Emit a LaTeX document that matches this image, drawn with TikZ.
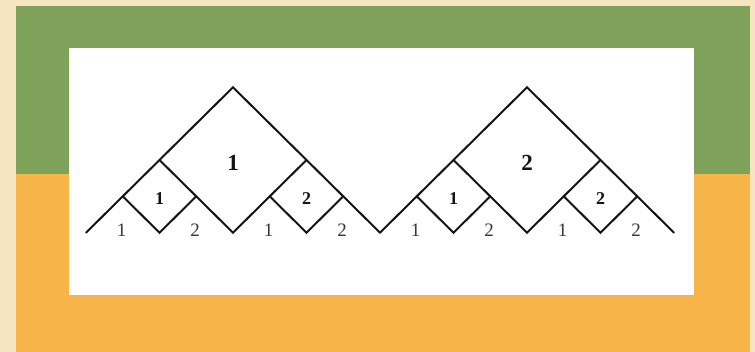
\documentclass[tikz,border=0pt]{standalone}
\usepackage{fontspec}
\setmainfont{Liberation Serif}
\definecolor{bgbeige}{HTML}{F6E5C0}
\definecolor{bandgreen}{HTML}{7FA25A}
\definecolor{bandorange}{HTML}{F7B449}
\definecolor{inkline}{HTML}{141414}
\tikzset{
  zigline/.style={line width=2pt, draw=inkline, line join=miter, line cap=round},
  biglabel/.style={inner sep=0pt, font=\fontsize{23}{23}\selectfont\bfseries, text=inkline},
  smalllabel/.style={inner sep=0pt, font=\fontsize{18}{18}\selectfont\bfseries, text=inkline},
  baselabel/.style={inner sep=0pt, font=\fontsize{19}{19}\selectfont, text=inkline!85}
}
\begin{document}
\begin{tikzpicture}[x=1pt,y=-1pt]
\fill[bgbeige] (0,0) rectangle (755,352);
\useasboundingbox (0,0) rectangle (755,352);
\fill[bandgreen] (16,6) rectangle (750,174);
\fill[bandorange] (16,174) rectangle (750,352);
\fill[white] (69,48) rectangle (694,295);
\foreach \h/\lab in {0/1,1/2}{
  \begin{scope}[shift={(86pt+\h*294pt,-232.7pt)}, x=36.75pt, y=36.35pt]
    \coordinate (b\h-0) at (0,0);
    \coordinate (b\h-2) at (2,0);
    \coordinate (b\h-4) at (4,0);
    \coordinate (b\h-6) at (6,0);
    \coordinate (b\h-8) at (8,0);
    \coordinate (m\h-1) at (1,1);
    \coordinate (m\h-3) at (3,1);
    \coordinate (m\h-5) at (5,1);
    \coordinate (m\h-7) at (7,1);
    \coordinate (d\h-2) at (2,2);
    \coordinate (d\h-6) at (6,2);
    \coordinate (t\h) at (4,4);
    \draw[zigline] (b\h-0) -- (t\h) -- (b\h-8);
    \draw[zigline] (d\h-2) -- (b\h-4) -- (d\h-6);
    \draw[zigline] (m\h-1) -- (b\h-2) -- (m\h-3);
    \draw[zigline] (m\h-5) -- (b\h-6) -- (m\h-7);
    \node[biglabel] (big\h) at (4,1.92) {\lab};
    \node[smalllabel] (sl\h) at (2,0.94) {1};
    \node[smalllabel] (sr\h) at (6,0.94) {2};
    \node[baselabel] (q\h-1) at (0.97,0.06) {1};
    \node[baselabel] (q\h-3) at (2.97,0.06) {2};
    \node[baselabel] (q\h-5) at (4.97,0.06) {1};
    \node[baselabel] (q\h-7) at (6.97,0.06) {2};
  \end{scope}
}
\end{tikzpicture}
\end{document}
